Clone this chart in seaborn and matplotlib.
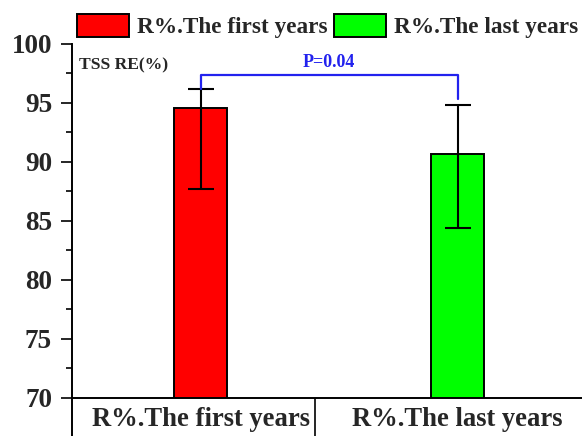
import matplotlib
matplotlib.use("Agg")
import matplotlib.pyplot as plt
from matplotlib.patches import Patch
from matplotlib.ticker import MultipleLocator
import seaborn as sns
import pandas as pd
import numpy as np

categories = ["R%.The first years", "R%.The last years"]
means = [94.55, 90.68]
err_low = [87.69, 84.38]
err_high = [96.2, 94.83]
colors = ["#FF0000", "#00FF00"]
p_text = "P=0.04"
ylabel_text = "TSS RE(%)"

sns.set_style("white")
plt.rcParams["font.family"] = ["Liberation Serif", "DejaVu Serif"]
plt.rcParams["font.weight"] = "bold"

df = pd.DataFrame({"group": categories, "value": means})

fig = plt.figure(figsize=(5.82, 4.36), dpi=100)
ax = fig.add_axes([0.1229, 0.0872, 0.8771, 0.8119])

sns.barplot(data=df, x="group", y="value", hue="group", palette=colors,
            saturation=1, width=0.205, edgecolor="black", linewidth=1.4,
            errorbar=None, legend=False, ax=ax, zorder=2)

xs = np.arange(len(categories))
means_a = np.array(means)
yerr = np.vstack([means_a - np.array(err_low), np.array(err_high) - means_a])
ax.errorbar(xs, means_a, yerr=yerr, fmt="none", ecolor="black",
            elinewidth=1.5, capsize=9.7, capthick=1.5, zorder=3)

ax.set_ylim(70, 100)
ax.set_xlim(-0.502, 1.484)
ax.yaxis.set_major_locator(MultipleLocator(5))
ax.yaxis.set_minor_locator(MultipleLocator(2.5))
ax.tick_params(axis="y", which="major", direction="out", length=8, width=1.4,
               labelsize=19.5, left=True, pad=6)
ax.tick_params(axis="y", which="minor", direction="out", length=4.3, width=1.4,
               left=True)
ax.tick_params(axis="x", length=0, labelsize=19.2, pad=6.5)
for lab in ax.get_xticklabels() + ax.get_yticklabels():
    lab.set_fontweight("bold")
ax.set_xlabel("")
ax.set_ylabel("")
for side in ["top", "right"]:
    ax.spines[side].set_visible(False)
for side in ["left", "bottom"]:
    ax.spines[side].set_linewidth(1.4)
    ax.spines[side].set_color("black")

# table-style separators below the category axis
trans = ax.get_xaxis_transform()
ax.plot([-0.502, -0.502], [0, -0.13], transform=trans, color="black",
        lw=1.4, clip_on=False, solid_capstyle="butt")
ax.plot([0.4455, 0.4455], [0, -0.13], transform=trans, color="black",
        lw=1.2, clip_on=False, solid_capstyle="butt")

# significance bracket
top = 97.37
ax.plot([xs[0], xs[0], xs[1], xs[1]], [err_high[0], top, top, 95.31],
        color="#2222ee", lw=1.6, zorder=4)
ax.text((xs[0] + xs[1]) / 2, top + 0.35, p_text, color="#2222ee", ha="center",
        va="bottom", fontsize=13, fontweight="bold")

ax.text(0.014, 0.9407, ylabel_text, transform=ax.transAxes, ha="left",
        va="center", fontsize=12.6, fontweight="bold")

handles = [Patch(facecolor=c, edgecolor="black", linewidth=1.4) for c in colors]
fig.legend(handles, categories, loc="center left",
           bbox_to_anchor=(77 / 582, 1 - 26 / 436), ncol=2, frameon=False,
           handlelength=2.23, handleheight=1.12, handletextpad=0.34,
           columnspacing=0.3, borderpad=0, borderaxespad=0,
           prop={"weight": "bold", "size": 16.75})

fig.savefig("out.png", dpi=100, facecolor="white")
